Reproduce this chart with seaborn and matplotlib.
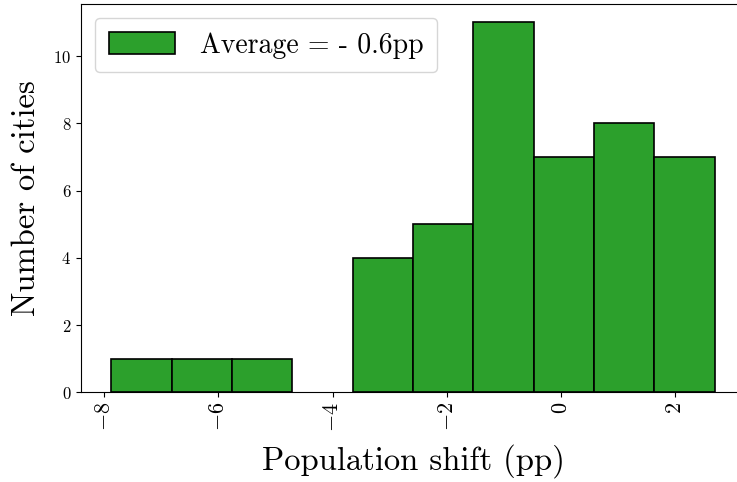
import matplotlib
matplotlib.use("Agg")
import matplotlib.pyplot as plt
import seaborn as sns
import pandas as pd

# Data
bin_centers = [-7.35, -6.29, -5.23, -4.18, -3.12, -2.06, -1.00, 0.05, 1.11, 2.16]
city_counts = [1, 1, 1, 0, 4, 5, 11, 7, 8, 7]
bin_low, bin_high = -7.876, 2.69
n_bins = 10
legend_label = "Average = - 0.6pp"
x_label = "Population shift (pp)"
y_label = "Number of cities"

plt.rcParams.update({
    "font.family": "serif",
    "font.serif": ["cmr10", "DejaVu Serif"],
    "mathtext.fontset": "cm",
    "axes.formatter.use_mathtext": True,
    "axes.unicode_minus": True,
})

df = pd.DataFrame({"shift": bin_centers, "count": city_counts})

W, H = 737, 482
left_px, right_px, top_px, bottom_px = 81, 770, 4, 392.3
fig = plt.figure(figsize=(W / 100, H / 100), dpi=100)
ax = fig.add_axes([left_px / W, 1 - bottom_px / H,
                   (right_px - left_px) / W, (bottom_px - top_px) / H])

sns.histplot(data=df, x="shift", weights="count", bins=n_bins,
             binrange=(bin_low, bin_high), color="#2ca02c", alpha=1.0,
             edgecolor="black", linewidth=1.2, label=legend_label, ax=ax)

for p in ax.patches:
    if p.get_height() == 0:
        p.set_visible(False)

# x scale matching reference (the original plot is cropped at the right side)
span = bin_high - bin_low
x_left = bin_low - 0.05 * span
px_per_unit = (745 - left_px) / (1.1 * span)
ax.set_xlim(x_left, x_left + (right_px - left_px) / px_per_unit)
ax.set_ylim(0, max(city_counts) * 1.05)

ax.set_xlabel(x_label, fontsize=23.5, labelpad=9)
ax.xaxis.label.set_x((413 - left_px) / (right_px - left_px))
ax.set_ylabel(y_label, fontsize=23.5, labelpad=9)
ax.tick_params(axis="x", labelsize=16, labelrotation=90)
ax.tick_params(axis="y", labelsize=12)
ax.legend(loc="upper left", fontsize=20, handlelength=2.37, handleheight=0.86,
          handletextpad=0.9, borderpad=0.5)

fig.savefig("out.png", dpi=100)
